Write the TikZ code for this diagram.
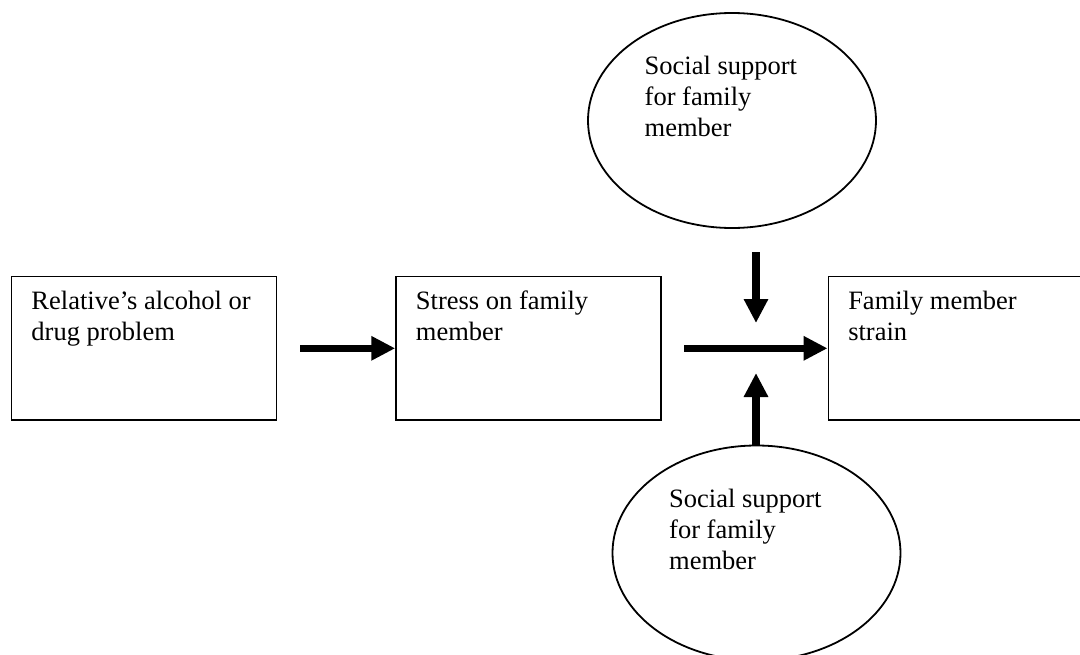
\documentclass[tikz,border=0pt]{standalone}
\usepackage{fontspec}
\setmainfont{Liberation Serif}
\usetikzlibrary{arrows.meta,shapes.geometric}

\begin{document}
\begin{tikzpicture}[x=1pt, y=-1pt,
    block/.style={draw=black, line width=1.5pt, rectangle, minimum width=265pt, minimum height=143.5pt, inner sep=0pt},
    oval/.style={draw=black, line width=1.8pt, ellipse, minimum width=288pt, minimum height=215pt, inner sep=0pt},
    words/.style={anchor=base west, inner sep=0pt, align=left, font=\fontsize{26.5}{31}\selectfont},
    push/.style={line width=7.3pt, -{Triangle[length=24pt, width=23pt]}}]
    \clip (0,0) rectangle (1080,654);

    % the three boxes
    \node [block] (problem) at (144,348.3) {};
    \node [block] (stress) at (528.5,348.3) {};
    \node [block] (strain) at (960.8,348.3) {};
    % base of a two-line text is its last line
    \node [words] (problem-text) at ([shift={(20.5,65)}]problem.north west) {Relative’s alcohol or\\drug problem};
    \node [words] (stress-text) at ([shift={(20.5,65)}]stress.north west) {Stress on family\\member};
    \node [words] (strain-text) at ([shift={(20.5,65)}]strain.north west) {Family member\\strain};

    % the two ellipses
    \node [oval] (support-top) at (732,120.5) {};
    \node [oval] (support-bottom) at (756.5,553) {};
    \node [words] (support-top-text) at ([shift={(-87.5,16.2)}]support-top.center) {Social support\\for family\\member};
    \node [words] (support-bottom-text) at ([shift={(-87.5,16.3)}]support-bottom.center) {Social support\\for family\\member};

    % arrows
    \coordinate (problem-out) at (300,348.3);
    \coordinate (stress-out) at (684,348.3);
    \coordinate (down-from) at (756,252);
    \coordinate (down-to) at (756,323);
    \coordinate (up-to) at (756,373);
    \draw [push] (problem-out) -- (stress.west);
    \draw [push] (stress-out) -- (strain.west);
    \draw [push] (down-from) -- (down-to);
    \draw [push] (support-bottom.north -| up-to) -- (up-to);
\end{tikzpicture}
\end{document}
